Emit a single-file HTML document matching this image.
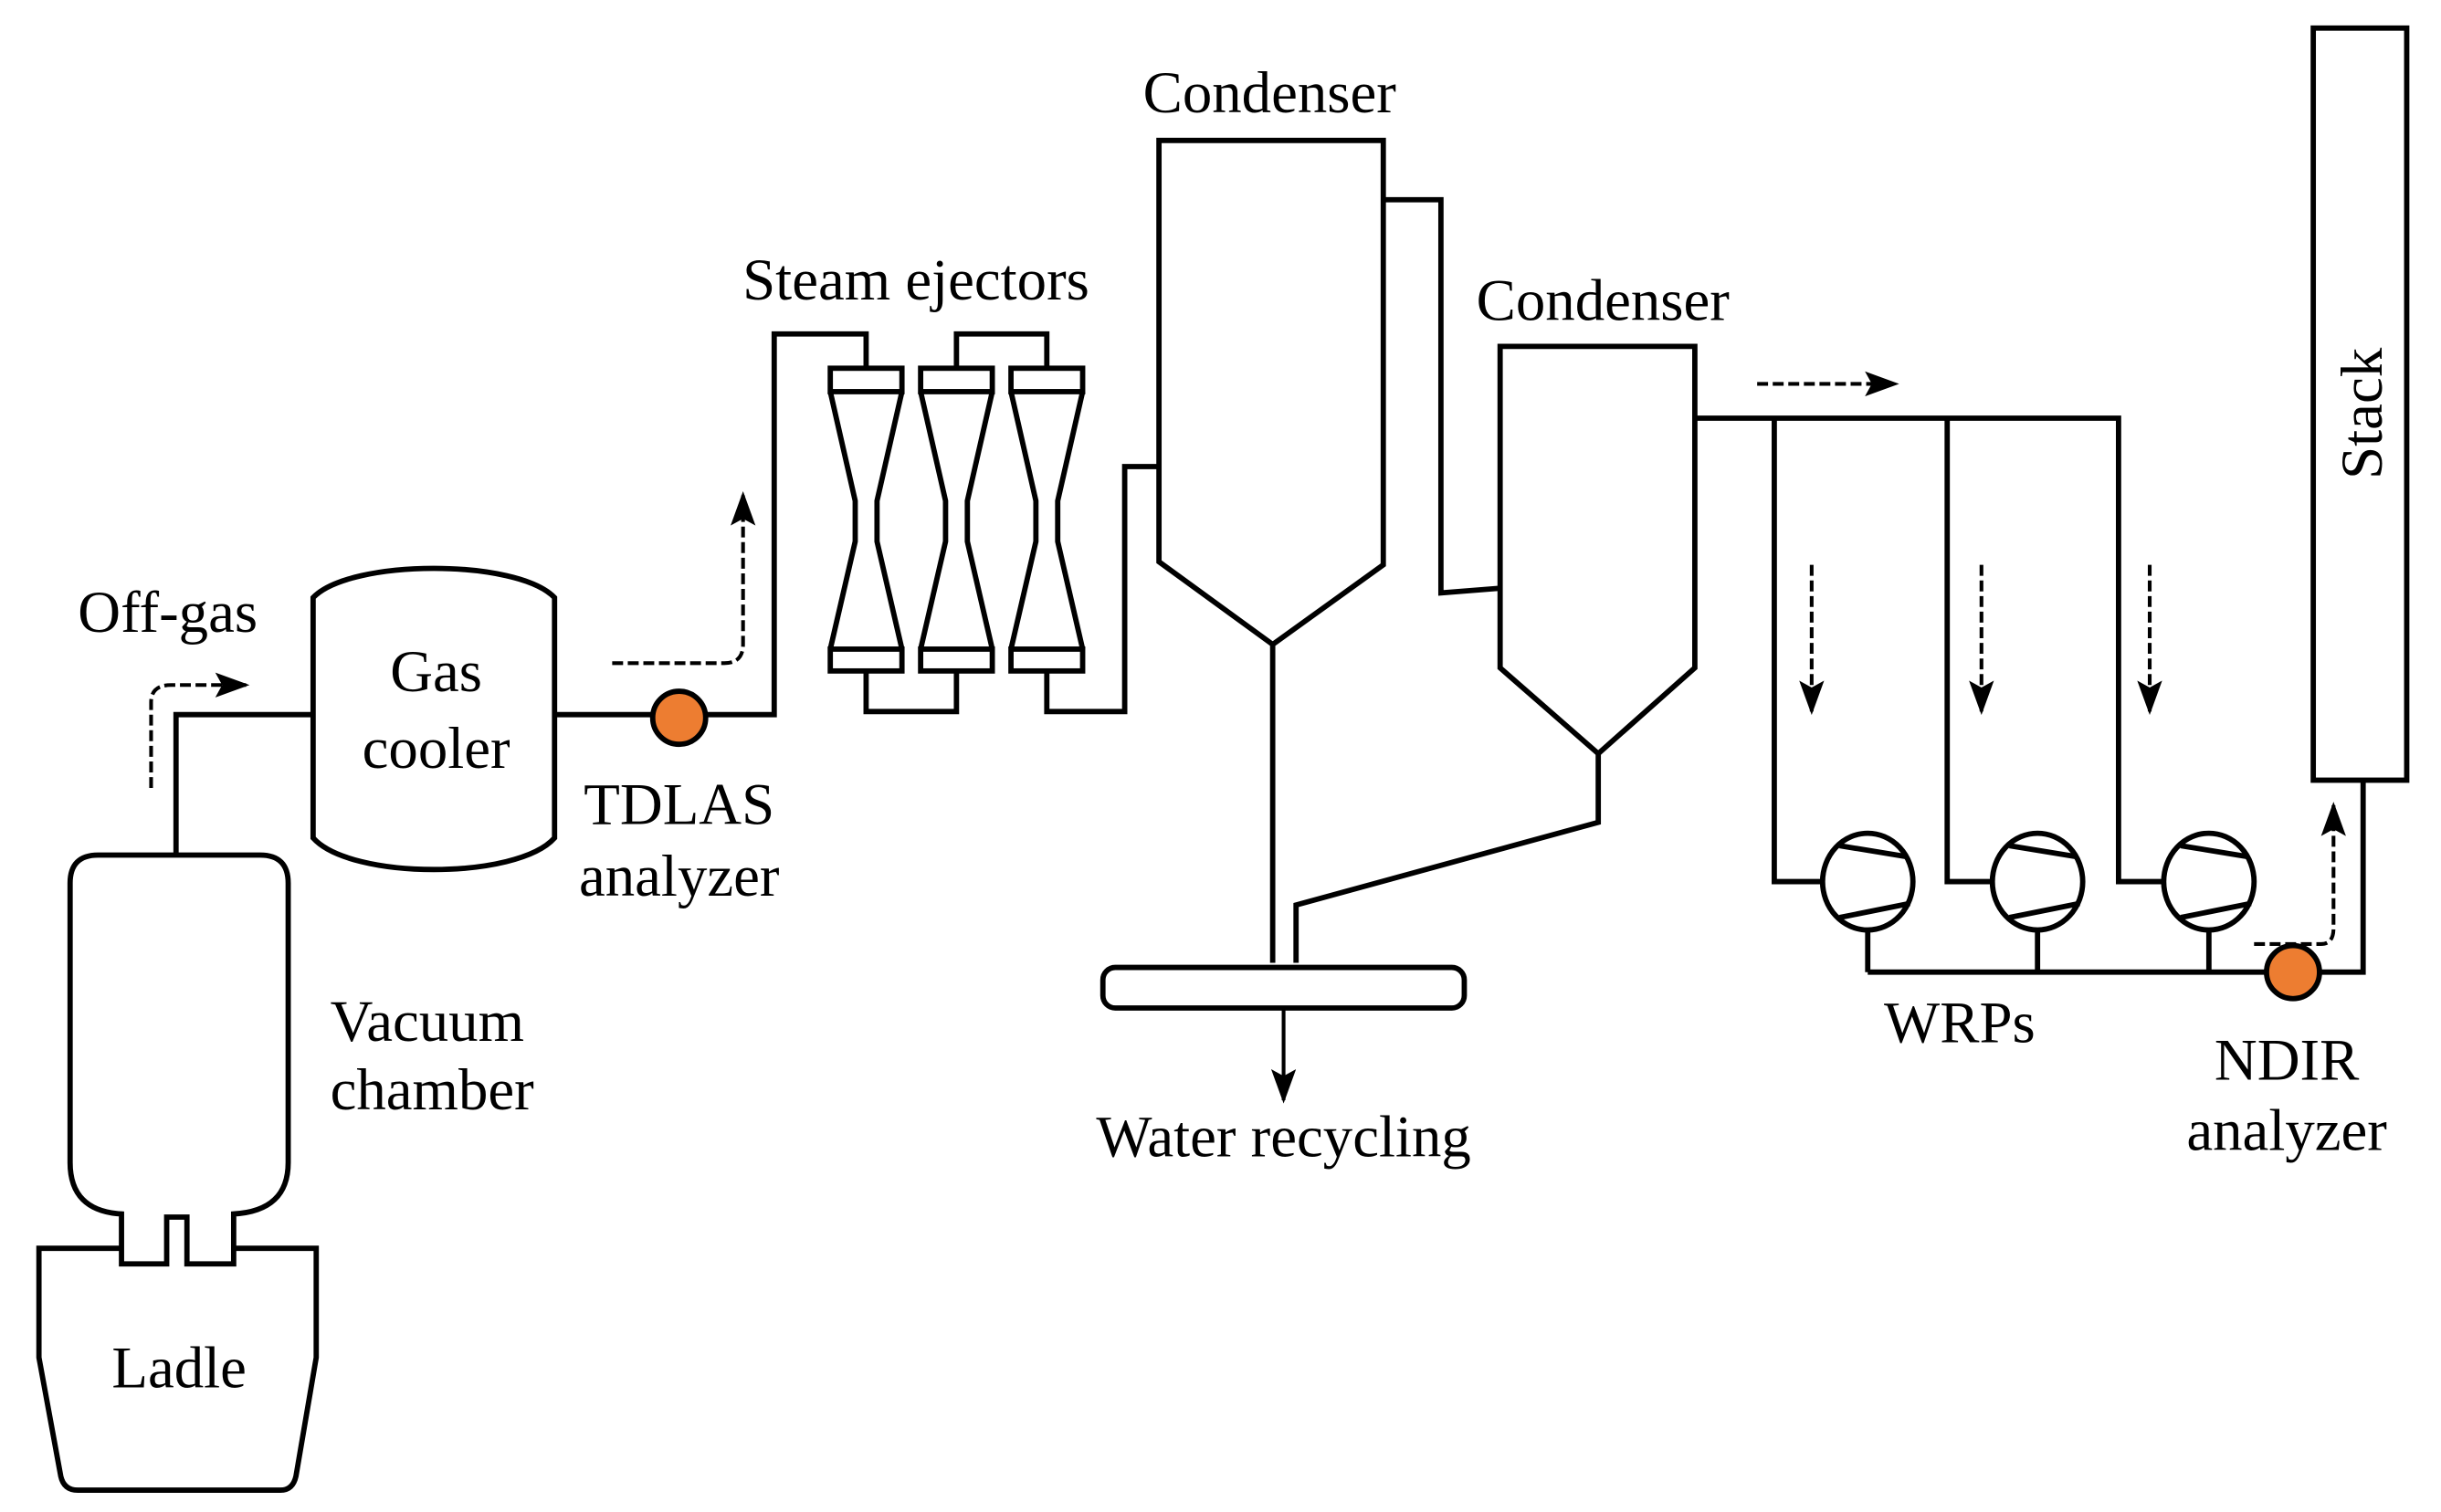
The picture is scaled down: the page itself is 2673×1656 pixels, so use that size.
<!DOCTYPE html>
<html><head><meta charset="utf-8"><style>html,body{margin:0;padding:0;background:#fff}svg{display:block}</style></head>
<body>
<svg width="2673" height="1656" viewBox="0 0 1567 969" preserveAspectRatio="none" xmlns="http://www.w3.org/2000/svg">
<defs>
<marker id="ah2" viewBox="0 0 10 10" refX="9" refY="5" markerWidth="22" markerHeight="16" markerUnits="userSpaceOnUse" orient="auto" preserveAspectRatio="none">
<path d="M0,0 L10,5 L0,10 L2,5 Z" fill="#000"/>
</marker>
</defs>
<g fill="none" stroke="#000" stroke-width="3.4" stroke-linejoin="miter">
<path d="M78,810 V778 Q45,776 45,745 V566 Q45,548 63,548 H167 Q185,548 185,566 V745 Q185,776 150,778 V810 H120 V780 H107 V810 Z" fill="#fff"/>
<path d="M78,800 H25 V870 L39,946 Q41,955 50,955 H180 Q188,955 190,946 L203,870 V800 H150"/>
<path d="M113,548 V458 H201"/>
<path d="M201,383 C225,358 332,358 356,383 V537 C332,564 225,564 201,537 Z"/>
<path d="M356,458 H497 V214 H556 V236"/>
<path d="M614,236 V214 H672 V236"/>
<path d="M556,430 V456 H614 V430"/>
<path d="M672,430 V456 H722 V299 H744"/>
<g id="ej">
<rect x="533" y="236" width="46" height="15"/>
<rect x="533" y="416" width="46" height="14"/>
<path d="M533,251 L549,321 V347 L533,416"/>
<path d="M579,251 L563,321 V347 L579,416"/>
</g>
<use href="#ej" x="58"/>
<use href="#ej" x="116"/>
<path d="M744,360 V90 H888 V362 L817,413 Z"/>
<path d="M888,128 H925 V380 L963,377"/>
<path d="M963,428 V222 H1088 V428 L1026,483 Z"/>
<path d="M817,413 V617"/>
<path d="M1026,483 V527 L832,580 V617"/>
<rect x="708" y="620" width="232" height="26" rx="8"/>
<path d="M1088,268 H1360 V565 H1389"/>
<path d="M1139,268 V565 H1170"/>
<path d="M1250,268 V565 H1279"/>
<g id="pm">
<ellipse cx="1199" cy="565" rx="29" ry="31"/>
<path d="M1181,542 L1224,549"/>
<path d="M1181,588 L1226,579"/>
<path d="M1199,596 V623"/>
</g>
<use href="#pm" x="109"/>
<use href="#pm" x="219"/>
<path d="M1199,623 H1517 V500"/>
<rect x="1485" y="18" width="60" height="482"/>
</g>
<circle cx="436" cy="460" r="17" fill="#ED7D31" stroke="#000" stroke-width="3.4"/>
<circle cx="1472" cy="623" r="17" fill="#ED7D31" stroke="#000" stroke-width="3.4"/>
<g fill="none" stroke="#000" stroke-width="2.4" stroke-dasharray="7,3">
<path d="M97,505 V450 Q97,439 110,439 H158" marker-end="url(#ah2)"/>
<path d="M393,425 H465 Q477,425 477,413 V317" marker-end="url(#ah2)"/>
<path d="M1128,246 H1217" marker-end="url(#ah2)"/>
<path d="M1163,362 V456" marker-end="url(#ah2)"/>
<path d="M1272,362 V456" marker-end="url(#ah2)"/>
<path d="M1380,362 V456" marker-end="url(#ah2)"/>
<path d="M1447,605 H1490 Q1498,605 1498,595 V516" marker-end="url(#ah2)"/>
</g>
<path d="M824,646 V705" stroke="#000" stroke-width="2.4" marker-end="url(#ah2)"/>
<g font-family="'Liberation Serif', serif" font-size="38" fill="#000">
<text x="50" y="405">Off-gas</text>
<text x="280" y="443" text-anchor="middle">Gas</text>
<text x="280" y="492" text-anchor="middle">cooler</text>
<text x="436" y="528" text-anchor="middle">TDLAS</text>
<text x="436" y="574" text-anchor="middle">analyzer</text>
<text x="212" y="667">Vacuum</text>
<text x="212" y="711">chamber</text>
<text x="115" y="889" text-anchor="middle">Ladle</text>
<text x="588" y="192" text-anchor="middle">Steam ejectors</text>
<text x="815" y="72" text-anchor="middle">Condenser</text>
<text x="1029" y="205" text-anchor="middle">Condenser</text>
<text x="824" y="741" text-anchor="middle">Water recycling</text>
<text x="1258" y="668" text-anchor="middle">WRPs</text>
<text x="1468" y="692" text-anchor="middle">NDIR</text>
<text x="1468" y="737" text-anchor="middle">analyzer</text>
<text x="0" y="0" text-anchor="middle" transform="translate(1529,265) rotate(-90)">Stack</text>
</g>
</svg>
</body></html>
